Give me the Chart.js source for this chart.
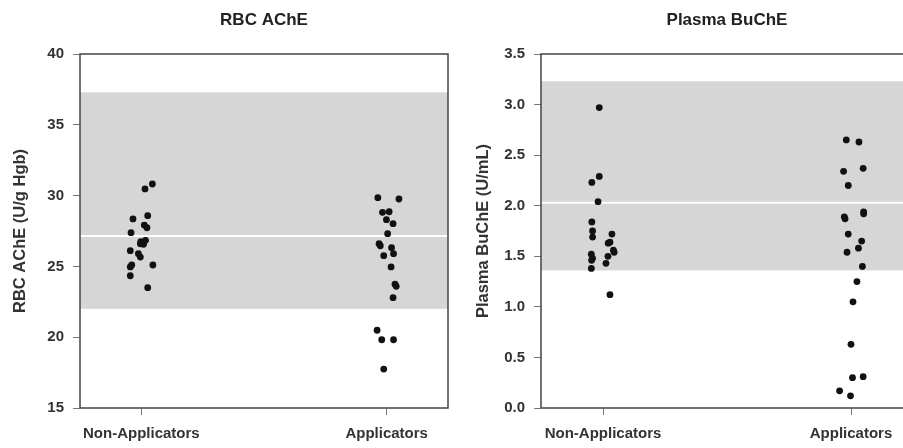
<!DOCTYPE html>
<html>
<head>
<meta charset="utf-8">
<script src="https://cdn.jsdelivr.net/npm/chart.js@4"></script>
<style>
  body { margin: 0; background: #fff; overflow: hidden; width: 903px; height: 448px; position: relative; }
  #rbcChart { position: absolute; left: 0; top: 0; }
  #buchChart { position: absolute; left: 452px; top: 0; }
</style>
</head>
<body>
<canvas id="rbcChart" width="452" height="448"></canvas>
<canvas id="buchChart" width="465" height="448"></canvas>
<script>
const categories = ['Non-Applicators', 'Applicators'];

// RBC AChE (U/g Hgb)
const rbcNonApp = [30.82, 30.47, 28.35, 28.58, 27.92, 27.73, 27.38, 26.74, 26.84, 26.56, 26.60, 26.11, 25.90, 25.66, 25.10, 24.96, 25.10, 24.34, 23.50];
const rbcNonAppJitter = [0.045, 0.015, -0.034, 0.026, 0.012, 0.023, -0.042, -0.002, 0.017, 0.009, -0.004, -0.045, -0.012, -0.004, -0.039, -0.045, 0.047, -0.045, 0.026];
const rbcApp = [29.85, 29.76, 28.82, 28.86, 28.30, 28.02, 27.31, 26.60, 26.46, 26.32, 25.76, 25.90, 24.96, 23.74, 23.59, 22.79, 20.49, 19.82, 19.82, 17.75];
const rbcAppJitter = [-0.036, 0.050, -0.017, 0.010, -0.001, 0.026, 0.004, -0.031, -0.026, 0.020, -0.012, 0.028, 0.018, 0.034, 0.039, 0.026, -0.039, -0.020, 0.028, -0.012];
const rbcRange = [22.0, 37.3];
const rbcMean = 27.15;

// Plasma BuChE (U/mL)
const buchNonApp = [2.97, 2.29, 2.23, 2.04, 1.84, 1.75, 1.69, 1.72, 1.64, 1.63, 1.56, 1.54, 1.50, 1.43, 1.52, 1.48, 1.46, 1.38, 1.12];
const buchNonAppJitter = [-0.015, -0.015, -0.045, -0.020, -0.045, -0.042, -0.042, 0.036, 0.028, 0.021, 0.042, 0.045, 0.020, 0.012, -0.047, -0.042, -0.046, -0.047, 0.028];
const buchApp = [2.65, 2.63, 2.37, 2.34, 2.20, 1.89, 1.87, 1.94, 1.92, 1.72, 1.65, 1.58, 1.54, 1.40, 1.25, 1.05, 0.63, 0.30, 0.31, 0.17, 0.12];
const buchAppJitter = [-0.019, 0.032, 0.049, -0.030, -0.011, -0.027, -0.024, 0.051, 0.051, -0.011, 0.043, 0.030, -0.016, 0.046, 0.024, 0.008, 0.000, 0.006, 0.049, -0.046, -0.002];
const buchRange = [1.36, 3.23];
const buchMean = 2.03;

Chart.defaults.font.family = '"Liberation Sans", Arial, sans-serif';
Chart.defaults.font.weight = 'bold';
Chart.defaults.color = '#333';

// grey reference band, white mean line and the box round the plot
const refBand = {
    id: 'refBand',
    beforeDatasetsDraw(chart, args, opts) {
        const {ctx, chartArea: a, scales: {y}} = chart;
        const top = y.getPixelForValue(opts.range[1]);
        const bot = y.getPixelForValue(opts.range[0]);
        ctx.save();
        ctx.fillStyle = '#d6d6d6';
        ctx.fillRect(a.left, top, a.width, bot - top);
        const m = y.getPixelForValue(opts.mean);
        ctx.strokeStyle = '#fff';
        ctx.lineWidth = 2;
        ctx.beginPath();
        ctx.moveTo(a.left, m);
        ctx.lineTo(a.right, m);
        ctx.stroke();
        ctx.restore();
    },
    afterDraw(chart) {
        const {ctx, chartArea: a} = chart;
        ctx.save();
        ctx.strokeStyle = '#444';
        ctx.lineWidth = 1.5;
        ctx.strokeRect(a.left, a.top, a.width, a.height);
        ctx.restore();
    }
};

function points(values, jitter, cat) {
    return values.map((v, i) => ({x: cat + jitter[i], y: v}));
}

function makeChart(el, cfg) {
    return new Chart(el, {
        type: 'scatter',
        data: {
            datasets: [
                {data: points(cfg.nonApp, cfg.nonAppJitter, 1)},
                {data: points(cfg.app, cfg.appJitter, 2)}
            ]
        },
        options: {
            responsive: false,
            animation: false,
            layout: {padding: {left: 0, right: cfg.padRight, top: 0, bottom: 0}},
            elements: {point: {radius: 3.4, backgroundColor: '#111', borderWidth: 0}},
            plugins: {
                legend: {display: false},
                tooltip: {enabled: false},
                title: {
                    display: true,
                    text: cfg.title,
                    fullSize: false,
                    font: {size: 17, weight: 'bold'},
                    color: '#222',
                    padding: {top: 10, bottom: 23.6}
                },
                refBand: {range: cfg.range, mean: cfg.mean}
            },
            scales: {
                x: {
                    type: 'linear',
                    min: 0.75,
                    max: 2.25,
                    afterBuildTicks: s => { s.ticks = [{value: 1}, {value: 2}]; },
                    afterFit: s => { s.height = 40; s.paddingLeft = 0; s.paddingRight = 0; },
                    ticks: {
                        callback: v => categories[v - 1],
                        font: {size: 15, weight: 'bold'},
                        color: '#333',
                        padding: 10,
                        maxRotation: 0
                    },
                    grid: {drawOnChartArea: false, drawTicks: true, tickLength: 7, color: '#777'},
                    border: {display: false}
                },
                y: {
                    min: cfg.yMin,
                    max: cfg.yMax,
                    afterFit: s => { s.width = cfg.yWidth; },
                    ticks: {
                        stepSize: cfg.step,
                        callback: cfg.fmt,
                        font: {size: 15, weight: 'bold'},
                        color: '#333',
                        padding: 9
                    },
                    grid: {drawOnChartArea: false, drawTicks: true, tickLength: 7, color: '#777'},
                    border: {display: false},
                    title: {
                        display: true,
                        text: cfg.yTitle,
                        font: {size: 16.5, weight: 'bold'},
                        color: '#333',
                        padding: {top: cfg.titlePad, bottom: 0}
                    }
                }
            }
        },
        plugins: [refBand]
    });
}

makeChart(document.getElementById('rbcChart'), {
    title: 'RBC AChE',
    yTitle: 'RBC AChE (U/g Hgb)',
    nonApp: rbcNonApp, nonAppJitter: rbcNonAppJitter,
    app: rbcApp, appJitter: rbcAppJitter,
    range: rbcRange, mean: rbcMean,
    yMin: 15, yMax: 40, step: 5,
    fmt: v => v,
    yWidth: 80, titlePad: 11, padRight: 1
});

makeChart(document.getElementById('buchChart'), {
    title: 'Plasma BuChE',
    yTitle: 'Plasma BuChE (U/mL)',
    nonApp: buchNonApp, nonAppJitter: buchNonAppJitter,
    app: buchApp, appJitter: buchAppJitter,
    range: buchRange, mean: buchMean,
    yMin: 0, yMax: 3.5, step: 0.5,
    fmt: v => v.toFixed(1),
    yWidth: 89, titlePad: 22, padRight: 4
});
</script>
</body>
</html>
